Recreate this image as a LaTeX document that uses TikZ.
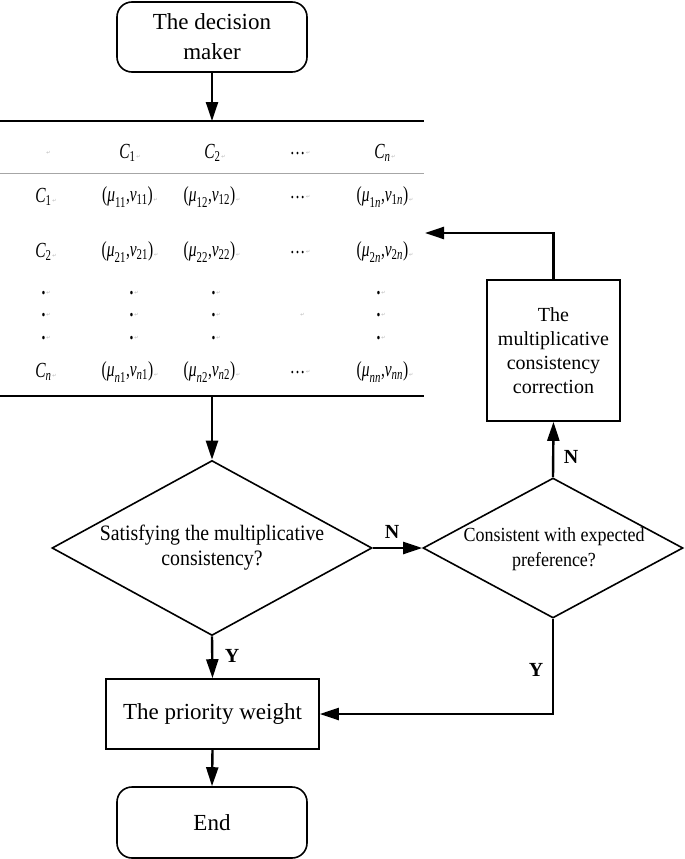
\documentclass[tikz,border=0pt]{standalone}
\usepackage{fontspec}
\usepackage{amsmath}
\usetikzlibrary{arrows.meta,shapes.geometric}
\setmainfont{Liberation Serif}
\newfontfamily\condfont[FakeStretch=0.9]{Liberation Serif}
\newfontfamily\cellfont[FakeStretch=0.72]{Liberation Serif}
\newfontfamily\marksym{DejaVu Sans}
\newcommand\pmk{{\marksym\fontsize{5}{5}\selectfont\color{gray!60}\,↵}}
\newcommand\ci[1]{\text{\cellfont\itshape #1}}
\newcommand\cu[1]{\text{\cellfont #1}}
\newcommand\pr[2]{$\cu{(}\ci{μ}_{#1}\cu{,}\ci{ν}_{#2}\cu{)}$\pmk}
\tikzset{
  rbox/.style={draw, line width=1.6pt, rounded corners=15pt, minimum width=190pt, align=center, inner sep=0pt},
  pbox/.style={draw, line width=1.6pt, align=center, inner sep=0pt},
  dshape/.style={draw, diamond, line width=1.6pt, inner sep=0pt},
  dtext/.style={align=center, inner sep=0pt},
  cell/.style={inner sep=0pt, font=\cellfont\fontsize{21.5}{21.5}\selectfont},
  arr/.style={line width=2.4pt, -{Triangle[length=19pt,width=12pt]}},
  tabline/.style={line width=1.6pt},
  lab/.style={font=\bfseries\fontsize{20}{20}\selectfont, inner sep=0pt}
}
\begin{document}
\begin{tikzpicture}[x=1pt,y=-1pt]
\useasboundingbox (0,0) rectangle (685,859);

% start box
\node[rbox, minimum height=70pt, font=\fontsize{23}{30}\selectfont] (dm) at (212,37) {The decision\\maker};

% table rules
\coordinate (tl1) at (0,121);
\coordinate (tr1) at (424,121);
\coordinate (tl2) at (0,173);
\coordinate (tr2) at (424,173);
\coordinate (tl3) at (0,396);
\coordinate (tr3) at (424,396);
\coordinate (ttop) at (212,121);
\coordinate (tbot) at (212,396);
\coordinate (tin) at (425,233);
\draw[tabline] (tl1) -- (tr1);
\draw[line width=0.8pt, gray!70] (tl2) -- (tr2);
\draw[tabline] (tl3) -- (tr3);

% header row
\node[cell] (h0) at (48,153) {\pmk};
\node[cell] (h1) at (130,153) {$\ci{C}_{\cu{1}}$\pmk};
\node[cell] (h2) at (215,153) {$\ci{C}_{\cu{2}}$\pmk};
\node[cell] (h3) at (300,153) {…\pmk};
\node[cell] (h4) at (385,153) {$\ci{C}_{\ci{n}}$\pmk};
% row 1
\node[cell] (a0) at (46,197) {$\ci{C}_{\cu{1}}$\pmk};
\node[cell] (a1) at (130,197) {\pr{\cu{11}}{\cu{11}}};
\node[cell] (a2) at (212,197) {\pr{\cu{12}}{\cu{12}}};
\node[cell] (a3) at (300,197) {…\pmk};
\node[cell] (a4) at (385,197) {\pr{\cu{1}\ci{n}}{\cu{1}\ci{n}}};
% row 2
\node[cell] (b0) at (46,252) {$\ci{C}_{\cu{2}}$\pmk};
\node[cell] (b1) at (130,252) {\pr{\cu{21}}{\cu{21}}};
\node[cell] (b2) at (212,252) {\pr{\cu{22}}{\cu{22}}};
\node[cell] (b3) at (300,252) {…\pmk};
\node[cell] (b4) at (385,252) {\pr{\cu{2}\ci{n}}{\cu{2}\ci{n}}};
% dots rows
\node[cell] (d10) at (46,293) {\textbf{.}\pmk};
\node[cell] (d11) at (134,293) {\textbf{.}\pmk};
\node[cell] (d12) at (216,293) {\textbf{.}\pmk};
\node[cell] (d14) at (381,293) {\textbf{.}\pmk};
\node[cell] (d20) at (46,315) {\textbf{.}\pmk};
\node[cell] (d21) at (134,315) {\textbf{.}\pmk};
\node[cell] (d22) at (216,315) {\textbf{.}\pmk};
\node[cell] (d23) at (302,315) {\pmk};
\node[cell] (d24) at (381,315) {\textbf{.}\pmk};
\node[cell] (d30) at (46,338) {\textbf{.}\pmk};
\node[cell] (d31) at (134,338) {\textbf{.}\pmk};
\node[cell] (d32) at (216,338) {\textbf{.}\pmk};
\node[cell] (d34) at (381,338) {\textbf{.}\pmk};
% row n
\node[cell] (c0) at (46,372) {$\ci{C}_{\ci{n}}$\pmk};
\node[cell] (c1) at (130,372) {\pr{\ci{n}\cu{1}}{\ci{n}\cu{1}}};
\node[cell] (c2) at (212,372) {\pr{\ci{n}\cu{2}}{\ci{n}\cu{2}}};
\node[cell] (c3) at (300,372) {…\pmk};
\node[cell] (c4) at (385,372) {\pr{\ci{nn}}{\ci{nn}}};

% diamonds
\node[dshape, minimum width=320pt, minimum height=175pt] (d1) at (212,548) {};
\node[dtext, font=\condfont\fontsize{22}{25}\selectfont] (d1t) at (212,548) {Satisfying the multiplicative\\consistency?};
\node[dshape, minimum width=260pt, minimum height=140pt] (d2) at (553,548) {};
\node[dtext, font=\condfont\fontsize{20}{25}\selectfont] (d2t) at (554,549) {Consistent with expected\\preference?};

% correction box
\node[pbox, minimum width=133pt, minimum height=141pt, font=\fontsize{20}{24}\selectfont] (corr) at (553.5,350.5) {The\\multiplicative\\consistency\\correction};

% priority and end
\node[pbox, minimum width=213pt, minimum height=70pt, font=\fontsize{23}{28}\selectfont] (prio) at (212.5,714) {The priority weight};
\node[rbox, minimum height=71pt, font=\fontsize{23}{28}\selectfont] (end) at (212,822.5) {End};

% connectors
\draw[arr] (dm.south) -- (ttop);
\draw[arr] (tbot) -- (d1.north);
\draw[arr] (d1.east) -- (d2.west);
\node[lab] (ln1) at (392,532) {N};
\draw[arr] (d2.north) -- (corr.south);
\node[lab] (ln2) at (571,457) {N};
\draw[arr] (corr.north) |- (tin);
\draw[arr] (d1.south) -- (prio.north);
\node[lab] (ly1) at (232,656) {Y};
\draw[arr] (d2.south) |- (prio.east);
\node[lab] (ly2) at (536,670) {Y};
\draw[arr] (prio.south) -- (end.north);
\end{tikzpicture}
\end{document}
